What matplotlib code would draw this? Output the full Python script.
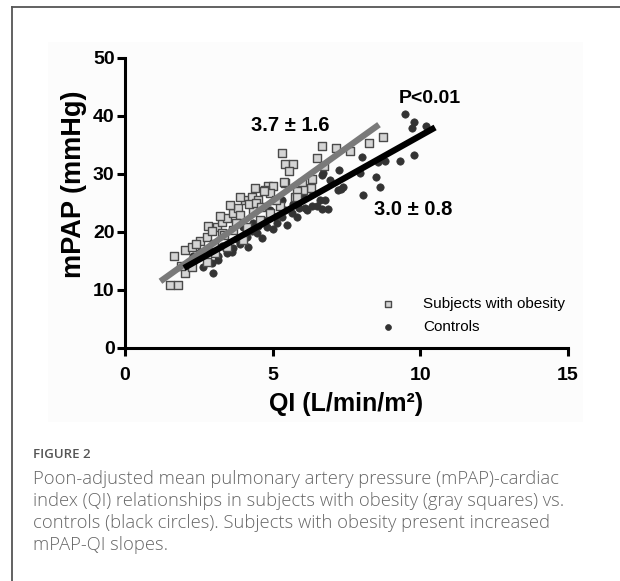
import matplotlib
matplotlib.use("Agg")
import matplotlib.pyplot as plt
from matplotlib.lines import Line2D
from matplotlib.patches import Rectangle
import numpy as np

# ---- data ----
obese_qi = [1.52, 1.78, 1.66, 2.03, 2.26, 2.54, 2.76, 2.82, 3.10, 3.27, 3.44, 3.66, 3.83, 4.06, 4.29, 4.51,
            4.85, 2.03, 2.26, 2.76, 3.05, 3.44, 4.00, 3.27, 3.66, 4.12, 4.57, 4.91, 5.25, 5.76, 4.35,
            5.30, 5.42, 5.68, 5.56, 6.66, 7.14, 7.62, 8.27, 8.74, 6.49, 6.74, 5.42, 5.98, 6.32, 6.30,
            6.04, 5.81, 5.83, 5.02, 4.74, 4.91, 4.71, 5.38, 2.40, 2.95, 3.20, 3.55, 3.90, 4.20, 4.45,
            3.00, 3.35, 3.75, 4.60, 2.60, 1.90, 3.90, 4.40, 5.10]
obese_map = [10.8, 10.8, 15.9, 16.9, 17.5, 18.4, 19.2, 21.0, 20.9, 21.8, 22.4, 23.2, 24.1, 25.5, 26.1, 25.5,
             27.9, 12.9, 14.0, 14.9, 16.3, 17.5, 18.6, 19.8, 20.3, 20.9, 22.1, 23.2, 24.4, 26.1, 23.8,
             33.6, 31.8, 31.8, 30.5, 34.8, 34.4, 34.0, 35.3, 36.3, 32.8, 31.4, 28.4, 28.5, 29.1, 27.6,
             27.3, 27.0, 26.1, 27.9, 27.2, 26.7, 27.1, 28.7, 17.9, 20.2, 22.8, 24.6, 22.9, 24.8, 25.0,
             18.0, 19.4, 21.6, 24.3, 16.2, 14.2, 26.0, 27.6, 25.6]

ctrl_qi = [9.48, 9.80, 9.71, 9.31, 9.80, 8.01, 8.57, 8.80, 7.96, 8.50, 8.64, 8.05, 7.25, 7.39, 7.22, 6.94,
           6.66, 6.66, 6.88, 6.77, 6.49, 6.32, 6.10, 6.71, 7.33, 6.37, 5.93, 5.70, 5.42, 5.08, 5.31,
           4.91, 4.68, 4.34, 4.46, 4.12, 3.89, 3.67, 3.44, 3.16, 2.93, 2.65, 2.99, 3.16, 3.61, 4.17,
           4.63, 5.02, 5.48, 5.81, 6.15, 4.00, 4.29, 4.80, 5.14, 5.64, 6.04, 6.60, 2.31, 2.54, 10.2,
           3.80, 4.50, 5.30, 5.90, 2.80, 3.30]
ctrl_map = [40.3, 38.9, 37.9, 32.2, 33.3, 32.9, 32.0, 32.2, 30.1, 29.5, 27.8, 26.4, 30.7, 27.8, 27.2, 29.0,
            29.8, 23.9, 23.9, 25.5, 24.4, 24.4, 24.1, 30.1, 27.5, 26.7, 25.5, 24.9, 23.8, 22.6, 25.5,
            23.8, 22.1, 21.5, 19.8, 19.2, 18.0, 17.2, 16.3, 15.8, 14.6, 14.0, 13.0, 15.2, 16.6, 17.5,
            18.9, 20.6, 21.2, 22.6, 23.8, 20.9, 20.1, 20.9, 21.5, 23.2, 26.1, 25.5, 15.8, 16.6, 38.3,
            18.8, 21.0, 22.6, 24.2, 17.0, 17.6]

# regression lines: slope, intercept, x-range
obese_fit = [3.65, 7.12]
obese_range = [1.2, 8.6]
ctrl_fit = [2.85, 8.1]
ctrl_range = [2.0, 10.5]

x_ticks = [0, 5, 10, 15]
y_ticks = [0, 10, 20, 30, 40, 50]

# ---- figure ----
fig = plt.figure(figsize=(6.2, 5.81), dpi=100)
W, H = 620, 581

# faint panel behind the chart image
fig.add_artist(Rectangle((48 / W, 1 - 422 / H), (583 - 48) / W, (422 - 42) / H,
                         facecolor="#fcfcfc", edgecolor="none", zorder=0))
# outer frame (left and top lines)
fig.add_artist(Line2D([12 / W, 12 / W], [0, 1 - 7 / H], color="#555555", lw=1.3))
fig.add_artist(Line2D([12 / W, 1], [1 - 7 / H, 1 - 7 / H], color="#555555", lw=1.3))

ax = fig.add_axes([125 / W, 1 - 348 / H, 443 / W, 290 / H])
ax.patch.set_alpha(0)
ax.set_xlim(0, 15)
ax.set_ylim(0, 50)

ax.scatter(obese_qi, obese_map, marker="s", s=34, facecolor="#d4d4d4", edgecolor="#4a4a4a",
           linewidths=1.0, zorder=3, label="Subjects with obesity")
ax.scatter(ctrl_qi, ctrl_map, marker="o", s=28, facecolor="#333333", edgecolor="#333333",
           linewidths=0.5, zorder=2, label="Controls")

xo = np.array(obese_range)
ax.plot(xo, obese_fit[0] * xo + obese_fit[1], color="#7a7a7a", lw=4.5, zorder=4, solid_capstyle="butt")
xc = np.array(ctrl_range)
ax.plot(xc, ctrl_fit[0] * xc + ctrl_fit[1], color="#000000", lw=4.5, zorder=4, solid_capstyle="butt")

for s in ["top", "right"]:
    ax.spines[s].set_visible(False)
for s in ["left", "bottom"]:
    ax.spines[s].set_linewidth(2.2)
ax.tick_params(direction="out", length=5.5, width=2.2, labelsize=14)
ax.tick_params(axis="x", pad=8)
ax.tick_params(axis="y", pad=2)
ax.set_xticks(x_ticks)
ax.set_yticks(y_ticks)
for lab in ax.get_xticklabels() + ax.get_yticklabels():
    lab.set_fontweight("bold")
    lab.set_family("Liberation Sans")

ax.set_xlabel("QI (L/min/m²)", fontsize=18, fontweight="bold", family="Liberation Sans", labelpad=6)
ax.set_ylabel("mPAP (mmHg)", fontsize=19.5, fontweight="bold", family="Liberation Sans")
ax.yaxis.set_label_coords(-0.085, 0.565)

ax.text(5.6, 38.4, "3.7 ± 1.6", ha="center", va="center", fontsize=14.5, fontweight="bold",
        family="Liberation Sans")
ax.text(10.33, 43.0, "P<0.01", ha="center", va="center", fontsize=14, fontweight="bold",
        family="Liberation Sans")
ax.text(9.75, 23.8, "3.0 ± 0.8", ha="center", va="center", fontsize=14.5, fontweight="bold",
        family="Liberation Sans")

leg = ax.legend(loc="upper left", bbox_to_anchor=(0.528, 0.222), frameon=False,
                prop={"family": "Liberation Sans", "size": 11}, handletextpad=1.3,
                labelspacing=0.55, markerscale=0.8)

# caption
cap_font = "Open Sans"
fig.text(33 / W, 1 - 455 / H, "FIGURE 2", fontsize=9.5, color="#555555", family=cap_font,
         va="center", fontweight="semibold")
caption = ["Poon-adjusted mean pulmonary artery pressure (mPAP)-cardiac",
           "index (QI) relationships in subjects with obesity (gray squares) vs.",
           "controls (black circles). Subjects with obesity present increased",
           "mPAP-QI slopes."]
for i, line in enumerate(caption):
    fig.text(33 / W, 1 - (479 + 22 * i) / H, line, fontsize=13.2, color="#666666",
             family=cap_font, va="center", fontweight="light")

fig.savefig("out.png", dpi=100, facecolor="white")
